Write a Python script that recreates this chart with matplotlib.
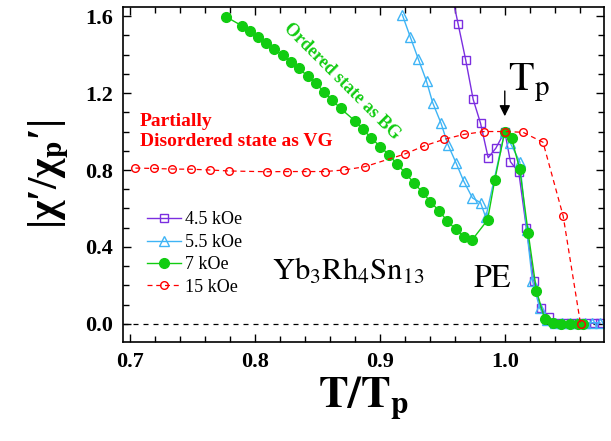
import matplotlib
matplotlib.use('Agg')
import matplotlib.pyplot as plt
from matplotlib.ticker import MultipleLocator

plt.rcParams['font.family'] = ['Liberation Serif', 'DejaVu Serif']
plt.rcParams['mathtext.fontset'] = 'stix'

# 4.5 kOe (last upper point sits above the frame, clipped)
x_45 = [0.9565, 0.9627, 0.9688, 0.9747, 0.9806, 0.9867, 0.9928, 1.0, 1.0045, 1.0112,
        1.0173, 1.0232, 1.0288, 1.0354, 1.0413, 1.047, 1.053, 1.059, 1.065, 1.071, 1.076]
y_45 = [1.75, 1.558, 1.370, 1.167, 1.043, 0.864, 0.913, 1.0, 0.843, 0.788,
        0.497, 0.225, 0.081, 0.035, 0.004, 0.003, 0.003, 0.003, 0.003, 0.003, 0.003]

# 5.5 kOe
x_55 = [0.918, 0.9243, 0.9308, 0.9374, 0.9423, 0.949, 0.9545, 0.961, 0.967, 0.9741,
        0.9806, 0.9848, 1.0, 1.0045, 1.012, 1.0175, 1.0221, 1.028, 1.0338, 1.04,
        1.046, 1.052, 1.058, 1.064, 1.07, 1.076]
y_55 = [1.607, 1.493, 1.377, 1.261, 1.150, 1.043, 0.932, 0.837, 0.744, 0.655,
        0.630, 0.554, 1.0, 0.939, 0.843, 0.49, 0.225, 0.081, 0.021, 0.006,
        0.006, 0.006, 0.006, 0.006, 0.006, 0.006]

# 7 kOe
x_7 = [0.7768, 0.7896, 0.7962, 0.8022, 0.8088, 0.8154, 0.8222, 0.8288, 0.8354, 0.8422,
       0.8488, 0.8554, 0.8618, 0.8686, 0.88, 0.8867, 0.8933, 0.9005, 0.9075, 0.9138,
       0.9206, 0.9272, 0.9342, 0.9405, 0.9472, 0.9538, 0.9606, 0.9672, 0.9738, 0.9862,
       0.992, 1.0, 1.0054, 1.012, 1.0187, 1.0253, 1.032, 1.0387, 1.0453, 1.052,
       1.0587, 1.0627]
y_7 = [1.597, 1.550, 1.522, 1.493, 1.462, 1.429, 1.396, 1.361, 1.328, 1.288,
       1.250, 1.207, 1.164, 1.120, 1.056, 1.011, 0.965, 0.921, 0.878, 0.831,
       0.783, 0.734, 0.684, 0.635, 0.589, 0.537, 0.492, 0.454, 0.436, 0.540,
       0.748, 1.0, 0.965, 0.804, 0.474, 0.173, 0.024, 0.004, 0.0, 0.0,
       0.0, 0.0]

# 15 kOe
x_15 = [0.7045, 0.7192, 0.7338, 0.749, 0.7643, 0.7792, 0.8096, 0.8254, 0.8408, 0.856,
        0.8712, 0.888, 0.92, 0.9354, 0.9512, 0.9672, 0.9834, 1.0, 1.0146, 1.0306,
        1.0467, 1.0606]
y_15 = [0.810, 0.808, 0.805, 0.804, 0.800, 0.795, 0.791, 0.792, 0.792, 0.792,
        0.800, 0.817, 0.883, 0.925, 0.959, 0.985, 1.0, 1.0, 0.996, 0.944,
        0.561, 0.0]

fig = plt.figure(figsize=(6.11, 4.41), dpi=100)
ax = fig.add_axes([0.201, 0.2245, 0.788, 0.7595])

ax.axhline(0, color='k', lw=0.9, ls=(0, (4, 4)), zorder=1)

ax.plot(x_45, y_45, '-s', color='#7b2ee0', mfc='none', ms=6, lw=1, mew=1, label='4.5 kOe')
ax.plot(x_55, y_55, '-^', color='#3fb4f5', mfc='none', ms=7, lw=1, mew=1, label='5.5 kOe')
ax.plot(x_7, y_7, '-o', color='#11cc11', ms=7, lw=1, label='7 kOe')
ax.plot(x_15, y_15, '--o', color='red', mfc='none', ms=5.5, lw=0.9, mew=1,
        dashes=(4, 3), label='15 kOe')

ax.set_xlim(0.6944, 1.0796)
ax.set_ylim(-0.094, 1.647)
ax.xaxis.set_major_locator(MultipleLocator(0.1))
ax.xaxis.set_minor_locator(MultipleLocator(0.02))
ax.yaxis.set_major_locator(MultipleLocator(0.4))
ax.yaxis.set_minor_locator(MultipleLocator(0.1))
ax.xaxis.set_major_formatter(plt.FormatStrFormatter('%.1f'))
ax.yaxis.set_major_formatter(plt.FormatStrFormatter('%.1f'))
ax.tick_params(which='both', direction='in', top=True, right=True, width=1)
ax.tick_params(which='major', length=6, labelsize=16, pad=7)
ax.tick_params(which='minor', length=4)
for lab in ax.get_xticklabels() + ax.get_yticklabels():
    lab.set_fontweight('bold')
for s in ax.spines.values():
    s.set_linewidth(1.2)

ax.set_xlabel(r'$\mathbf{T/T_p}$', fontsize=32, labelpad=2)
ax.set_ylabel('|\u03c7\u2032/\u03c7$_\\mathbf{p}$\u2032|', fontsize=30, fontweight='bold',
              labelpad=10)

ax.text(0.8696, 1.262, 'Ordered state as BG', color='#11cc11', fontsize=13,
        fontweight='bold', rotation=-45, ha='center', va='center', rotation_mode='anchor')
ax.text(0.708, 1.096, 'Partially\nDisordered state as VG', color='red', fontsize=14,
        fontweight='bold', ha='left', va='top', linespacing=1.25)
ax.text(1.0024, 1.216, r'$\mathrm{T_p}$', fontsize=30, ha='left', va='baseline')
ax.annotate('', xy=(1.0, 1.065), xytext=(1.0, 1.225),
            arrowprops=dict(arrowstyle='-|>', color='k', lw=1, mutation_scale=16))
ax.text(0.8136, 0.229, r'$\mathrm{Yb_3Rh_4Sn_{13}}$', fontsize=22, ha='left', va='baseline')
ax.text(0.9744, 0.192, r'$\mathrm{PE}$', fontsize=23, ha='left', va='baseline')

ax.legend(loc='center left', bbox_to_anchor=(0.05, 0.264), frameon=False,
          prop={'family': 'Liberation Serif', 'size': 13},
          handlelength=1.9, handletextpad=0.2, borderpad=0, borderaxespad=0,
          labelspacing=0.3)

fig.savefig('out.png', dpi=100)
